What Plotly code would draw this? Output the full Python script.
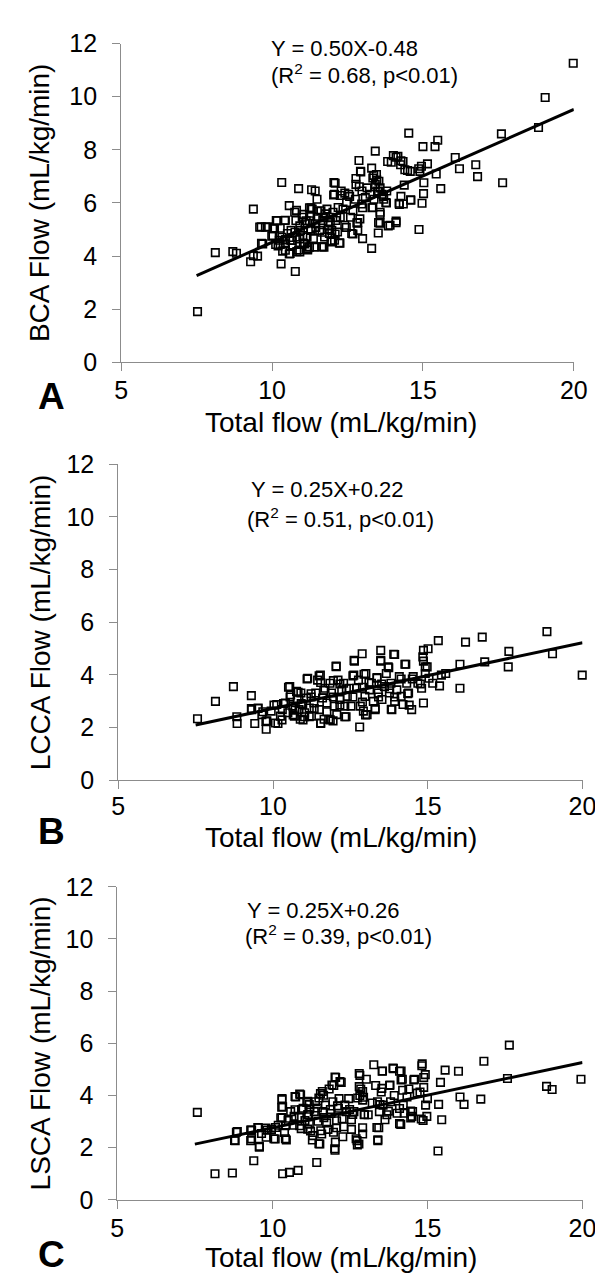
import plotly.graph_objects as go

W, H = 603, 1287

# ---------------- data ----------------
total_flow_A = [7.53, 8.12, 8.70, 8.82, 9.29, 9.38, 9.52, 9.38, 9.59, 9.78, 9.65, 10.30, 10.32, 10.77, 10.88, 10.57,
                11.31, 11.43, 12.05, 12.88, 12.93, 13.30, 13.42, 12.07, 12.29, 12.54, 12.78, 12.98, 13.34, 13.30,
                13.00, 12.64, 12.23, 13.52, 13.58, 13.58, 13.77, 13.80, 13.91, 14.11, 13.83, 14.02, 14.17, 14.26,
                14.34, 14.40, 14.53, 14.21, 14.35, 14.60, 14.38, 14.58, 14.87, 14.90, 14.95, 15.00, 15.03, 15.02,
                14.97, 15.15, 15.40, 15.49, 15.44, 15.59, 16.07, 16.21, 16.75, 16.81, 17.60, 17.64, 18.83, 19.05,
                19.98,
                9.99, 10.08, 10.14, 10.20, 10.27, 10.35, 10.42, 10.45, 10.51, 10.57, 10.63, 10.67, 10.75, 10.79,
                10.82, 10.88, 10.94, 11.00, 11.04, 11.09, 11.16, 11.18, 11.25, 11.28, 11.33, 11.37, 11.43, 11.49,
                11.53, 11.58, 11.62, 11.65, 11.68, 11.74, 11.77, 11.82, 11.86, 11.90, 11.92, 11.98, 12.02, 12.07,
                12.11, 12.17, 12.19, 12.26, 12.35, 12.41, 12.47, 12.60, 12.68, 12.76, 12.81, 12.84, 12.91, 12.97,
                13.09, 13.15, 13.25, 13.34, 13.38, 13.42, 13.46, 13.50, 13.54, 13.58, 13.64, 13.70, 10.24, 10.60,
                10.82, 11.18, 11.68, 11.95]
bca_flow = [1.91, 4.13, 4.17, 4.11, 3.79, 4.02, 4.00, 5.77, 5.09, 5.09, 4.48, 3.71, 6.77, 3.42, 6.54, 5.90,
            6.50, 6.45, 6.77, 7.60, 7.19, 7.31, 7.95, 6.33, 6.45, 6.33, 6.70, 6.45, 5.83, 4.29,
            4.66, 4.85, 4.50, 4.87, 5.24, 5.65, 6.02, 6.45, 5.16, 5.32, 7.56, 7.78, 7.76, 7.44,
            7.56, 7.25, 8.63, 5.99, 5.96, 6.10, 6.67, 7.19, 5.00, 7.19, 7.38, 8.12, 6.76, 6.35,
            5.99, 7.47, 8.12, 8.36, 7.09, 6.54, 7.71, 7.29, 7.44, 6.99, 8.60, 6.76, 8.84, 9.97,
            11.26,
            4.75, 5.03, 5.34, 4.38, 4.44, 4.19, 5.34, 4.62, 4.85, 4.08, 4.97, 4.42, 5.65, 5.34,
            4.72, 4.23, 4.97, 5.46, 4.48, 5.22, 4.72, 4.35, 5.52, 4.97, 5.77, 4.66, 5.22, 6.14,
            5.46, 4.97, 5.71, 4.35, 5.34, 4.72, 5.59, 5.77, 5.16, 4.85, 5.46, 4.97, 5.65, 4.60,
            5.34, 4.91, 5.83, 5.46, 5.77, 5.16, 6.02, 5.46, 5.71, 6.14, 5.25, 4.97, 5.40, 5.96,
            6.20, 6.57, 6.33, 6.94, 6.14, 6.70, 7.07, 6.45, 6.82, 6.57, 6.33, 6.14, 4.60, 4.60,
            4.17, 4.23, 4.35, 4.58]
cluster_A = [(10.81, 5.72), (11.05, 5.57), (11.24, 5.82), (9.64, 5.10), (9.85, 5.10), (10.17, 5.33),
             (10.44, 5.35), (10.06, 5.05), (10.27, 5.05), (10.03, 4.77), (10.33, 4.71), (9.69, 4.46),
             (10.12, 4.44), (10.44, 4.46), (10.65, 4.59), (10.92, 4.65), (11.08, 4.46), (10.44, 4.22),
             (10.60, 4.10), (10.92, 4.16), (10.92, 5.14), (11.13, 5.33), (11.29, 5.02), (10.76, 4.90),
             (11.02, 4.77), (11.24, 4.34), (11.29, 5.82), (11.50, 5.69), (11.72, 5.45), (11.93, 5.26),
             (12.14, 5.45), (11.24, 5.33), (11.45, 5.08), (11.66, 4.90), (11.88, 5.02), (12.09, 4.83),
             (12.25, 4.49), (11.98, 4.53), (11.72, 4.34), (11.40, 4.34), (11.18, 4.28), (12.46, 5.08),
             (12.68, 4.83), (12.84, 5.26), (13.00, 5.82), (12.89, 6.61), (12.09, 6.74), (12.04, 6.30),
             (12.26, 6.28), (12.41, 6.37), (12.57, 6.25), (12.78, 6.92), (12.94, 7.17), (13.37, 7.04),
             (13.47, 6.86), (13.42, 6.61), (13.53, 6.43), (13.69, 6.25), (13.79, 6.00), (13.31, 5.82),
             (13.58, 5.57), (13.53, 5.26), (13.85, 5.14), (14.11, 5.26), (14.22, 5.94), (14.59, 6.12),
             (14.27, 6.25), (13.95, 7.53), (14.11, 7.72), (14.27, 7.59), (14.49, 7.22), (14.86, 7.29)]

total_flow_B = [7.56, 8.14, 8.72, 8.83, 8.84, 9.30, 9.31, 9.41, 9.52, 9.64, 9.78, 9.80, 9.94, 10.12, 10.16, 10.24,
                10.30, 10.40, 10.48, 10.54, 10.57, 10.64, 10.69, 10.76, 10.78, 10.84, 10.88, 10.90, 10.96, 11.02,
                11.08, 11.12, 11.17, 11.24, 11.32, 11.38, 11.44, 11.50, 11.53, 11.54, 11.60, 11.65, 11.68, 11.74,
                11.80, 11.84, 11.89, 11.94, 11.98, 12.04, 12.06, 12.10, 12.16, 12.22, 12.28, 12.32, 12.36, 12.40,
                12.46, 12.52, 12.61, 12.62, 12.70, 12.76, 12.80, 12.82, 12.88, 12.92, 12.97, 13.00, 13.04, 13.12,
                13.18, 13.24, 13.30, 13.36, 13.40, 13.48, 13.48, 13.52, 13.60, 13.66, 13.72, 13.76, 13.81, 13.84,
                13.90, 13.93, 14.00, 14.08, 14.14, 14.20, 14.26, 14.32, 14.38, 14.48, 14.53, 14.68, 14.80, 14.86,
                14.84, 14.86, 14.92, 14.98, 15.01, 15.04, 15.16, 15.34, 15.38, 15.44, 15.58, 16.04, 16.04, 16.22,
                16.76, 16.84, 17.62, 17.60, 18.85, 19.03, 19.99]
lcca_flow = [2.33, 2.99, 3.55, 2.41, 2.15, 3.21, 2.68, 2.15, 2.74, 2.49, 1.93, 2.25, 2.62, 2.87, 2.15, 2.43,
             2.68, 2.93, 2.56, 3.55, 3.24, 2.81, 2.43, 3.37, 3.06, 2.68, 2.31, 3.31, 2.87, 2.56,
             3.12, 3.87, 2.74, 2.43, 2.93, 3.31, 3.80, 2.68, 3.99, 2.15, 3.12, 2.31, 3.49, 2.93,
             2.31, 3.68, 3.31, 2.25, 2.81, 4.33, 2.49, 3.80, 3.06, 3.43, 3.68, 2.81, 2.41, 3.18,
             3.49, 2.81, 3.99, 4.55, 3.49, 3.80, 2.02, 2.81, 4.80, 2.62, 3.18, 4.05, 2.49, 3.43,
             3.68, 2.99, 2.68, 3.87, 3.31, 4.93, 4.55, 3.06, 3.55, 4.05, 4.30, 3.31, 3.68, 2.68,
             4.78, 2.99, 3.43, 3.93, 3.18, 2.87, 4.40, 3.68, 3.31, 2.68, 3.93, 3.68, 3.49, 2.93,
             4.68, 4.93, 4.05, 4.30, 4.99, 3.87, 3.68, 5.30, 3.58, 3.99, 4.05, 3.49, 4.40, 5.24,
             5.43, 4.49, 4.89, 4.30, 5.64, 4.80, 3.99]
cluster_B = [(12.63, 4.52), (13.48, 4.52), (13.93, 4.77), (14.29, 4.40), (13.74, 4.27), (12.04, 4.31),
             (11.10, 3.84), (11.49, 3.96), (11.54, 3.71), (11.95, 3.78), (12.16, 3.65), (12.58, 3.96),
             (12.94, 4.02), (13.36, 3.90), (13.10, 3.71), (13.51, 3.65), (13.77, 3.47), (14.14, 3.84),
             (14.50, 3.84), (11.23, 3.28), (11.64, 3.41), (11.95, 3.16), (12.37, 3.47), (12.58, 3.16),
             (12.89, 3.53), (12.89, 2.97), (13.41, 3.16), (13.93, 3.16), (14.35, 3.28), (14.40, 2.85),
             (13.82, 2.69), (13.30, 2.72), (12.99, 2.48), (12.32, 2.41), (11.85, 2.29), (11.54, 2.17),
             (11.17, 2.41), (11.33, 2.72), (11.74, 2.60), (12.16, 2.85), (14.86, 4.52), (14.92, 4.30),
             (14.76, 3.65), (9.30, 2.72), (9.51, 2.72), (9.77, 2.23), (9.67, 2.60), (10.08, 2.17),
             (10.03, 2.85), (10.29, 2.29), (10.34, 2.91), (10.50, 3.53), (10.55, 3.16), (10.71, 2.66),
             (10.81, 3.34), (10.91, 2.91), (11.02, 2.41), (11.23, 3.16), (10.97, 2.29), (10.65, 2.48)]

total_flow_C = [7.58, 8.15, 8.71, 8.87, 8.80, 9.30, 9.40, 9.33, 9.55, 9.58, 9.65, 9.83, 9.97, 10.09, 10.19, 10.27,
                10.31, 10.33, 10.33, 10.39, 10.45, 10.51, 10.55, 10.59, 10.69, 10.75, 10.83, 10.87, 10.91, 10.93,
                10.99, 11.05, 11.11, 11.17, 11.23, 11.29, 11.35, 11.39, 11.43, 11.47, 11.53, 11.55, 11.59, 11.63,
                11.65, 11.71, 11.75, 11.79, 11.83, 11.89, 11.95, 11.98, 12.01, 12.03, 12.04, 12.07, 12.13, 12.15,
                12.22, 12.25, 12.27, 12.34, 12.39, 12.46, 12.55, 12.55, 12.63, 12.73, 12.79, 12.82, 12.82, 12.85,
                12.91, 12.91, 12.97, 13.03, 13.09, 13.27, 13.33, 13.39, 13.40, 13.43, 13.45, 13.51, 13.54, 13.57,
                13.63, 13.69, 13.78, 13.81, 13.90, 13.93, 14.02, 14.10, 14.14, 14.19, 14.22, 14.25, 14.34, 14.40,
                14.46, 14.52, 14.58, 14.76, 14.82, 14.86, 14.88, 14.88, 14.94, 14.98, 15.00, 15.34, 15.36, 15.42,
                15.46, 15.57, 16.00, 16.05, 16.18, 16.72, 16.82, 17.58, 17.64, 18.84, 19.02, 19.95]
lsca_flow = [3.35, 1.00, 1.03, 2.62, 2.27, 2.27, 1.50, 2.67, 2.76, 2.05, 2.54, 2.67, 2.70, 2.33, 2.86, 3.14,
             3.88, 3.57, 1.00, 2.58, 2.29, 3.04, 1.05, 3.38, 2.86, 3.94, 1.13, 3.16, 4.03, 2.73,
             3.51, 3.04, 3.73, 3.26, 2.64, 2.29, 3.38, 3.76, 1.43, 3.01, 2.14, 4.07, 2.52, 3.38,
             4.01, 3.63, 2.95, 2.70, 4.25, 3.31, 3.76, 4.38, 1.96, 2.21, 4.69, 2.76, 3.51, 3.88,
             4.50, 3.11, 2.42, 3.63, 3.38, 3.88, 3.07, 2.70, 3.38, 2.27, 2.14, 4.77, 4.00, 4.25,
             3.82, 2.76, 3.26, 4.62, 3.26, 5.18, 4.38, 3.76, 2.27, 2.76, 3.38, 4.13, 4.93, 3.63,
             3.07, 3.26, 4.38, 3.76, 5.03, 4.00, 3.32, 4.93, 2.89, 4.62, 3.63, 3.32, 3.94, 4.25,
             3.14, 3.38, 4.62, 4.13, 5.14, 3.04, 4.69, 4.31, 3.63, 3.20, 3.88, 1.87, 3.66, 4.50,
             3.07, 4.97, 4.93, 3.94, 3.66, 3.86, 5.31, 4.65, 5.93, 4.35, 4.23, 4.62]
cluster_C = [(13.55, 4.94), (13.89, 5.05), (14.15, 4.94), (14.83, 5.21), (14.93, 4.80), (12.80, 4.84),
             (12.02, 4.71), (12.18, 4.53), (11.92, 4.40), (11.61, 4.15), (11.50, 3.90), (12.80, 4.34),
             (12.91, 4.15), (12.94, 3.93), (12.75, 3.90), (13.53, 4.27), (13.79, 4.40), (14.15, 4.59),
             (14.20, 4.20), (14.56, 4.59), (14.67, 4.09), (13.22, 3.71), (13.47, 3.65), (13.74, 3.40),
             (14.10, 3.50), (14.46, 3.40), (11.19, 3.65), (11.45, 3.52), (11.87, 3.46), (12.10, 3.60),
             (12.49, 3.46), (12.59, 3.27), (12.96, 3.27), (11.14, 3.27), (11.66, 3.15), (12.07, 3.03),
             (11.19, 2.90), (11.56, 2.65), (11.97, 2.59), (12.30, 2.80), (12.91, 2.52), (11.50, 2.15),
             (12.02, 1.90), (12.70, 2.34), (12.74, 2.10), (13.37, 2.77), (13.40, 2.30), (14.10, 2.92),
             (14.50, 3.20), (14.80, 3.10), (8.84, 2.59), (8.78, 2.28), (9.30, 2.67), (9.33, 2.34),
             (9.53, 2.77), (9.58, 2.02), (9.79, 2.75), (9.80, 2.40), (10.05, 2.34), (10.10, 2.77),
             (10.31, 3.84), (10.30, 3.55), (10.31, 3.15), (10.42, 2.34), (10.42, 2.84), (10.73, 3.96),
             (10.88, 4.05), (10.73, 3.45), (10.94, 3.46), (11.14, 3.78), (11.20, 3.47), (10.70, 3.20),
             (10.88, 2.84), (11.14, 2.71), (11.30, 2.46)]

fit_x = [7.5, 20.0]
slopes = [0.50, 0.25, 0.25]
intercepts = [-0.48, 0.22, 0.26]
equations = ["Y = 0.50X-0.48", "Y = 0.25X+0.22", "Y = 0.25X+0.26"]
stats = ["(R<sup>2</sup> = 0.68, p&lt;0.01)", "(R<sup>2</sup> = 0.51, p&lt;0.01)", "(R<sup>2</sup> = 0.39, p&lt;0.01)"]
y_titles = ["BCA Flow (mL/kg/min)", "LCCA Flow (mL/kg/min)", "LSCA Flow (mL/kg/min)"]
x_title = "Total flow (mL/kg/min)"
panel_letters = ["A", "B", "C"]
x_ticks = [5, 10, 15, 20]
y_ticks = [0, 2, 4, 6, 8, 10, 12]

# ---------------- layout helpers (pixel boxes) ----------------
FONT = "Arial, Liberation Sans, sans-serif"
def pxx(x):
    return x / W
def pxy(y):
    return 1 - y / H

boxes = [(110, 579, 22, 348), (107, 588, 452, 775), (106, 588, 884, 1204)]
eq_pos = [((263, 27), (263, 53)), ((242, 478), (238, 507)), ((238, 908), (236, 933))]
xtitle_y = [409, 834, 1263]
letter_y = [383, 828, 1260]
xlabel_standoff = [-2, -4, -2]

xs = [total_flow_A + [p[0] for p in cluster_A],
      total_flow_B + [p[0] for p in cluster_B],
      total_flow_C + [p[0] for p in cluster_C]]
ys = [bca_flow + [p[1] for p in cluster_A],
      lcca_flow + [p[1] for p in cluster_B],
      lsca_flow + [p[1] for p in cluster_C]]

fig = go.Figure()
annotations = []
for i in range(3):
    ax = "" if i == 0 else str(i + 1)
    xa, ya = "x" + ax, "y" + ax
    fig.add_trace(go.Scatter(
        x=xs[i], y=ys[i], mode="markers", xaxis=xa, yaxis=ya, cliponaxis=False,
        marker=dict(symbol="square-open", size=7.5, color="black", line=dict(width=1.6, color="black")),
        showlegend=False, hoverinfo="skip"))
    fy = [slopes[i] * v + intercepts[i] for v in fit_x]
    fig.add_trace(go.Scatter(
        x=fit_x, y=fy, mode="lines", xaxis=xa, yaxis=ya, cliponaxis=False,
        line=dict(color="black", width=3), showlegend=False, hoverinfo="skip"))
    l, r, t, b = boxes[i]
    axis_common = dict(showline=True, linecolor="#8c8c8c", linewidth=1, ticks="outside", ticklen=8,
                       tickcolor="#8c8c8c", tickwidth=1, showgrid=False, zeroline=False,
                       tickfont=dict(family=FONT, size=25, color="black"))
    fig.update_layout(**{
        "xaxis" + ax: dict(domain=[pxx(l), pxx(r)], range=[5, 20], tickvals=x_ticks,
                           anchor=ya, ticklabelstandoff=xlabel_standoff[i], **axis_common),
        "yaxis" + ax: dict(domain=[pxy(b), pxy(t)], range=[0, 12], tickvals=y_ticks,
                           anchor=xa, ticklabelstandoff=10, **axis_common),
    })
    (e1x, e1y), (e2x, e2y) = eq_pos[i]
    annotations += [
        dict(text=equations[i], x=pxx(e1x), y=pxy(e1y), xref="paper", yref="paper",
             xanchor="left", yanchor="middle", showarrow=False, font=dict(family=FONT, size=22, color="black")),
        dict(text=stats[i], x=pxx(e2x), y=pxy(e2y), xref="paper", yref="paper",
             xanchor="left", yanchor="middle", showarrow=False, font=dict(family=FONT, size=22, color="black")),
        dict(text=y_titles[i], x=pxx(26), y=pxy((t + b) / 2), xref="paper", yref="paper", textangle=-90,
             xanchor="center", yanchor="middle", showarrow=False, font=dict(family=FONT, size=28, color="black")),
        dict(text=x_title, x=pxx(338), y=pxy(xtitle_y[i]), xref="paper", yref="paper",
             xanchor="center", yanchor="middle", showarrow=False, font=dict(family=FONT, size=28, color="black")),
        dict(text="<b>" + panel_letters[i] + "</b>", x=pxx(22), y=pxy(letter_y[i]), xref="paper", yref="paper",
             xanchor="left", yanchor="middle", showarrow=False, font=dict(family=FONT, size=37, color="black")),
    ]

fig.update_layout(width=W, height=H, margin=dict(l=0, r=0, t=0, b=0),
                  paper_bgcolor="white", plot_bgcolor="white", annotations=annotations)
fig.write_html("out.html")
